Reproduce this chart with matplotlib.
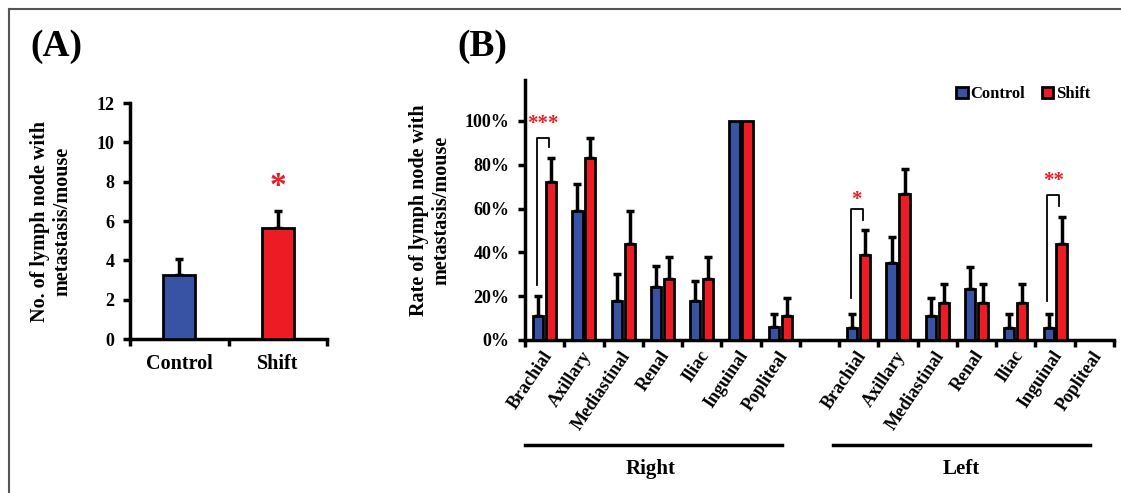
import matplotlib
matplotlib.use('Agg')
import matplotlib.pyplot as plt
from matplotlib.lines import Line2D
from matplotlib.patches import Patch
import matplotlib.transforms as mtransforms
import numpy as np

plt.rcParams['font.family'] = ['Liberation Serif', 'DejaVu Serif']
plt.rcParams['font.weight'] = 'bold'

BLUE = '#3953a4'
RED = '#ed1c24'

# panel A data
groups_a = ['Control', 'Shift']
count_mean = [3.25, 5.65]
count_top = [4.05, 6.5]

# panel B data (fraction of mice)
sites = ['Brachial', 'Axillary', 'Mediastinal', 'Renal', 'Iliac', 'Inguinal', 'Popliteal']
right_ctrl = [0.11, 0.59, 0.18, 0.24, 0.18, 1.00, 0.06]
right_ctrl_top = [0.20, 0.71, 0.30, 0.34, 0.27, 1.00, 0.12]
right_shift = [0.72, 0.83, 0.44, 0.28, 0.28, 1.00, 0.11]
right_shift_top = [0.83, 0.92, 0.59, 0.38, 0.38, 1.00, 0.19]
left_ctrl = [0.056, 0.35, 0.11, 0.235, 0.056, 0.056, 0.0]
left_ctrl_top = [0.12, 0.47, 0.19, 0.335, 0.12, 0.12, 0.0]
left_shift = [0.39, 0.665, 0.167, 0.167, 0.167, 0.44, 0.0]
left_shift_top = [0.50, 0.78, 0.255, 0.255, 0.255, 0.56, 0.0]

W, H = 1121, 493
fig = plt.figure(figsize=(W / 100, H / 100), dpi=100)

def fx(px):
    return px / W

def fy(py):
    return 1 - py / H

# frame lines (top and left)
fig.add_artist(Line2D([fx(8.5), 1], [fy(8.5), fy(8.5)], color='#555555', lw=1.5, transform=fig.transFigure))
fig.add_artist(Line2D([fx(8.5), fx(8.5)], [0, fy(8.5)], color='#555555', lw=1.5, transform=fig.transFigure))

fig.text(fx(30), fy(46), '(A)', fontsize=27, fontweight='bold', va='center', ha='left')
fig.text(fx(457), fy(46), '(B)', fontsize=27, fontweight='bold', va='center', ha='left')

# ---------- panel A ----------
axA = fig.add_axes([fx(130), fy(339), fx(327) - fx(130), fy(103) - fy(339)])
xa = np.array([0.5, 1.5])
axA.bar(xa, count_mean, width=0.32, color=[BLUE, RED], edgecolor='black', linewidth=2, zorder=3)
err_a = np.array(count_top) - np.array(count_mean)
axA.errorbar(xa, count_mean, yerr=[np.zeros(2), err_a], fmt='none', ecolor='black',
             elinewidth=2.5, capsize=3, capthick=2.5, zorder=2)
axA.set_xlim(0, 2)
axA.set_ylim(0, 12)
axA.set_yticks(range(0, 13, 2))
axA.set_xticks([0, 1, 2])
axA.set_xticks(xa, minor=True)
axA.set_xticklabels([])
axA.set_xticklabels(groups_a, minor=True)
axA.tick_params(axis='x', which='minor', length=0, pad=11, labelsize=14.5)
axA.tick_params(axis='x', which='major', length=5, width=2.5, direction='out')
axA.tick_params(axis='y', length=5, width=2.5, labelsize=13, pad=6)
for s in ['top', 'right']:
    axA.spines[s].set_visible(False)
for s in ['left', 'bottom']:
    axA.spines[s].set_linewidth(2.5)
axA.text(-0.40, 0.5, 'No. of lymph node with\nmetastasis/mouse', transform=axA.transAxes,
         rotation=90, ha='center', va='center', fontsize=14.5, fontweight='bold', linespacing=1.15)
axA.text(1.5, 7.75, '*', color=RED, fontsize=24, ha='center', va='center')

# ---------- panel B ----------
axB = fig.add_axes([fx(525), fy(340), fx(1114) - fx(525), fy(80) - fy(340)])
pos_r = np.arange(7)
pos_l = np.arange(8, 15)
pos = np.concatenate([pos_r, pos_l])
ctrl = np.array(right_ctrl + left_ctrl)
ctrl_top = np.array(right_ctrl_top + left_ctrl_top)
shift = np.array(right_shift + left_shift)
shift_top = np.array(right_shift_top + left_shift_top)
bw = 0.26
off = 0.165
axB.bar(pos - off, ctrl, width=bw, color=BLUE, edgecolor='black', linewidth=2, zorder=3, label='Control')
axB.bar(pos + off, shift, width=bw, color=RED, edgecolor='black', linewidth=2, zorder=3, label='Shift')
ce = ctrl_top - ctrl
se = shift_top - shift
mc = ce > 0
ms = se > 0
axB.errorbar((pos - off)[mc], ctrl[mc], yerr=[np.zeros(mc.sum()), ce[mc]], fmt='none', ecolor='black',
             elinewidth=2.5, capsize=3, capthick=2.5, zorder=2)
axB.errorbar((pos + off)[ms], shift[ms], yerr=[np.zeros(ms.sum()), se[ms]], fmt='none', ecolor='black',
             elinewidth=2.5, capsize=3, capthick=2.5, zorder=2)
axB.set_xlim(-0.5, 14.5)
axB.set_ylim(0, 1.187)
axB.set_yticks(np.arange(0, 1.01, 0.2))
axB.set_yticklabels(['%d%%' % round(v * 100) for v in np.arange(0, 1.01, 0.2)])
axB.set_xticks(pos + 0.1)
axB.set_xticklabels(sites + sites, rotation=56, ha='right', va='center', rotation_mode='anchor')
axB.set_xticks(np.arange(-0.5, 15, 1), minor=True)
axB.tick_params(axis='x', which='major', length=0, pad=9, labelsize=13)
axB.tick_params(axis='x', which='minor', length=5, width=2.5, direction='out')
axB.tick_params(axis='y', length=5, width=2.5, labelsize=13, pad=6)
for s in ['top', 'right']:
    axB.spines[s].set_visible(False)
for s in ['left', 'bottom']:
    axB.spines[s].set_linewidth(2.5)
axB.text(-0.161, 0.5, 'Rate of lymph node with\nmetastasis/mouse', transform=axB.transAxes,
         rotation=90, ha='center', va='center', fontsize=14.5, fontweight='bold', linespacing=1.15)

# significance brackets
brackets = [(0, 0.25, 0.92, 0.88, '***', 0.985),
            (8, 0.19, 0.60, 0.55, '*', 0.64),
            (13, 0.18, 0.66, 0.61, '**', 0.725)]
for x0, ylo, yhi, yend, star, ys in brackets:
    axB.plot([x0 - 0.2, x0 - 0.2, x0 + 0.1, x0 + 0.1], [ylo, yhi, yhi, yend], color='black', lw=1.3, zorder=4)
    axB.text(x0 - 0.05, ys, star, color=RED, fontsize=15, ha='center', va='center')

# group lines and labels
trans = mtransforms.blended_transform_factory(axB.transData, axB.transAxes)
for x1, x2, name, xc in [(-0.5, 6.04, 'Right', 2.7), (7.34, 13.89, 'Left', 10.62)]:
    axB.plot([x1, x2], [-0.404, -0.404], color='black', lw=2.5, transform=trans, clip_on=False)
    axB.text(xc, -0.495, name, transform=trans, ha='center', va='center', fontsize=15, fontweight='bold')

handles = [Patch(facecolor=BLUE, edgecolor='black', linewidth=2), Patch(facecolor=RED, edgecolor='black', linewidth=2)]
axB.legend(handles, ['Control', 'Shift'], loc='center right', bbox_to_anchor=(0.985, 0.945), ncol=2,
           frameon=False, handlelength=0.7, handleheight=0.7, handletextpad=0.15, columnspacing=1.0,
           prop={'size': 12, 'weight': 'bold'})

fig.savefig('out.png', dpi=100)
